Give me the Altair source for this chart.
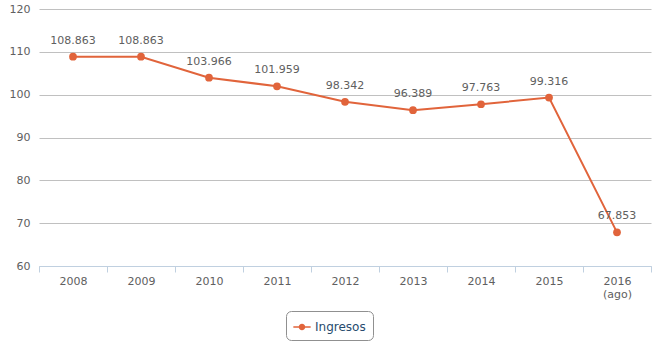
import altair as alt
import pandas as pd

years = ["2008", "2009", "2010", "2011", "2012", "2013", "2014", "2015", "2016"]
values = [108.863, 108.863, 103.966, 101.959, 98.342, 96.389, 97.763, 99.316, 67.853]
value_labels = ["108.863", "108.863", "103.966", "101.959", "98.342", "96.389", "97.763", "99.316", "67.853"]
series_name = "Ingresos"

df = pd.DataFrame({"year": years, "value": values, "label": value_labels, "serie": [series_name] * len(years)})

COLOR = "#E1643B"
FONT = "DejaVu Sans"

x = alt.X("year:O", title=None, scale=alt.Scale(paddingInner=0, paddingOuter=0),
          axis=alt.Axis(labelAngle=0, bandPosition=0, tickBand="extent", domainColor="#C0D0E0",
                        tickColor="#C0D0E0", tickSize=6, labelColor="#606060", labelFontSize=11,
                        labelFont=FONT, labelPadding=3, grid=False,
                        labelExpr="datum.value == '2016' ? ['2016', '(ago)'] : datum.value"))
y = alt.Y("value:Q", title=None, scale=alt.Scale(domain=[60, 120], nice=False, zero=False),
          axis=alt.Axis(values=[60, 70, 80, 90, 100, 110, 120], domain=False, ticks=False,
                        gridColor="#C0C0C0", labelColor="#606060", labelFontSize=11,
                        labelFont=FONT, labelPadding=9))

sym = ("M -1 -0.09 L -0.3 -0.09 L -0.3 0.09 L -1 0.09 Z "
       "M 0.3 -0.09 L 1 -0.09 L 1 0.09 L 0.3 0.09 Z "
       "M -0.38 0 A 0.38 0.38 0 1 1 0.38 0 A 0.38 0.38 0 1 1 -0.38 0 Z")

base = alt.Chart(df)
line = base.mark_line(strokeWidth=2).encode(
    x=x, y=y,
    color=alt.Color("serie:N", scale=alt.Scale(range=[COLOR]),
                    legend=alt.Legend(title=None, orient="none", legendX=247, legendY=302,
                                      symbolType=sym, symbolSize=300, symbolStrokeWidth=0,
                                      labelFont=FONT, labelFontSize=12, labelColor="#274B6D",
                                      strokeColor="#909090", cornerRadius=5, padding=7,
                                      symbolFillColor=COLOR))
)
pts = base.mark_point(filled=True, size=60, opacity=1, color=COLOR).encode(x=x, y=y)
txt = base.mark_text(dy=-16, fontSize=11, font=FONT, color="#606060").encode(
    x=x, y=y, text="label:N")

chart = (line + pts + txt).properties(
    width=612, height=257,
    autosize=alt.AutoSizeParams(type="none"),
    padding={"left": 39, "top": 9, "right": 9, "bottom": 91},
).configure_view(stroke=None)

chart.save("out.html", embed_options={"renderer": "svg", "actions": False})
